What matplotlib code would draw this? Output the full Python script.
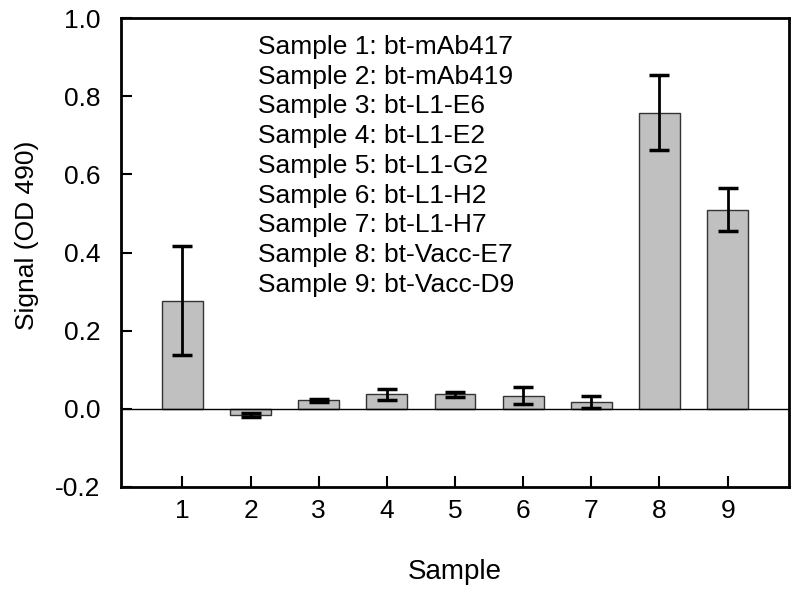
import matplotlib.pyplot as plt
import numpy as np

plt.rcParams['font.family'] = ['Liberation Sans', 'DejaVu Sans']

samples = [1, 2, 3, 4, 5, 6, 7, 8, 9]
signal = [0.277, -0.016, 0.022, 0.037, 0.037, 0.034, 0.018, 0.757, 0.510]
err = [0.140, 0.006, 0.004, 0.014, 0.007, 0.021, 0.016, 0.096, 0.055]
names = ['bt-mAb417', 'bt-mAb419', 'bt-L1-E6', 'bt-L1-E2', 'bt-L1-G2',
         'bt-L1-H2', 'bt-L1-H7', 'bt-Vacc-E7', 'bt-Vacc-D9']
yticks = [-0.2, 0.0, 0.2, 0.4, 0.6, 0.8, 1.0]

fig = plt.figure(figsize=(7.97, 5.93), dpi=100)
ax = fig.add_axes([121/797, 1 - 487/593, 668/797, 469/593])

ax.bar(samples, signal, width=0.6, color='#c0c0c0', edgecolor='#333333', linewidth=1.0, zorder=2)
ax.errorbar(samples, signal, yerr=err, fmt='none', ecolor='black', elinewidth=2,
            capsize=7, capthick=2.5, zorder=3)
ax.axhline(0, color='black', linewidth=1.0, zorder=4)

ax.set_xlim(0.1, 9.9)
ax.set_ylim(-0.2, 1.0)
ax.set_xticks(samples)
ax.set_yticks(yticks)
ax.set_yticklabels(['%.1f' % v for v in yticks])
ax.tick_params(direction='in', length=8, width=1.5, labelsize=19)
ax.tick_params(axis='x', pad=9)
ax.tick_params(axis='y', pad=15)
ax.tick_params(top=False, right=False)
for s in ax.spines.values():
    s.set_linewidth(2)

ax.set_xlabel('Sample', fontsize=20, va='center')
ax.xaxis.set_label_coords(0.5, (487 - 572) / 469)
ax.set_ylabel('Signal (OD 490)', fontsize=19, va='center', ha='center')
ax.yaxis.set_label_coords((27 - 121) / 668, (487 - 235) / 469)

for i, n in enumerate(names):
    ax.text(0.205, 0.938 - i * 0.0633, 'Sample %d: %s' % (i + 1, n),
            transform=ax.transAxes, fontsize=19, va='center', ha='left')

fig.savefig('out.png', dpi=100)
